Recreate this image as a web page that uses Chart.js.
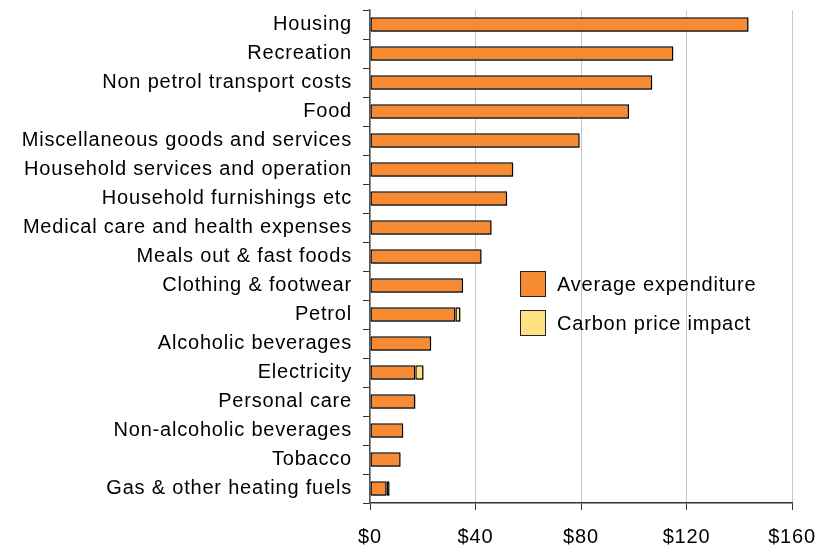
<!DOCTYPE html>
<html>
<head>
<meta charset="utf-8">
<script src="https://cdn.jsdelivr.net/npm/chart.js@4.4.1/dist/chart.umd.min.js"></script>
<style>
  html, body { margin: 0; padding: 0; background: #fff; }
  #wrap { width: 819px; height: 548px; position: relative; }
</style>
</head>
<body>
<div id="wrap"><canvas id="chart"></canvas></div>
<script>
// categories, top to bottom
const categories = [
  'Housing', 'Recreation', 'Non petrol transport costs', 'Food',
  'Miscellaneous goods and services', 'Household services and operation',
  'Household furnishings etc', 'Medical care and health expenses',
  'Meals out & fast foods', 'Clothing & footwear', 'Petrol',
  'Alcoholic beverages', 'Electricity', 'Personal care',
  'Non-alcoholic beverages', 'Tobacco', 'Gas & other heating fuels'
];
// weekly $ per household
const averageExpenditure = [143.5, 115, 107, 98.2, 79.5, 54.3, 52, 46.1, 42.3, 35.3, 32.4, 23.2, 17.2, 17.2, 12.6, 11.6, 6.3];
const carbonPriceImpact  = [0, 0, 0, 0, 0, 0, 0, 0, 0, 0, 1.9, 0, 3.1, 0, 0, 0, 1.1];
const xTicks = [0, 40, 80, 120, 160];

const FONT = '"Liberation Sans", Arial, Helvetica, sans-serif';
const FONT_SIZE = 20;
const SPACING = '0.8px';

// slightly wider text like the original, set before anything is measured
const textSpacing = {
  id: 'textSpacing',
  beforeLayout(chart) { chart.ctx.letterSpacing = SPACING; },
  beforeDraw(chart) { chart.ctx.letterSpacing = SPACING; }
};

// grey shadow behind the bars
const barShadow = {
  id: 'barShadow',
  beforeDatasetsDraw(chart) {
    const c = chart.ctx;
    c.save();
    c.shadowColor = 'rgba(0,0,0,0.4)';
    c.shadowOffsetX = 1.5;
    c.shadowOffsetY = 1.5;
    c.shadowBlur = 0;
  },
  afterDatasetsDraw(chart) {
    chart.ctx.restore();
  }
};

// legend drawn inside the plot
const innerLegend = {
  id: 'innerLegend',
  afterDraw(chart) {
    const c = chart.ctx;
    const x = 520, y0 = 271, step = 39;
    c.save();
    c.letterSpacing = SPACING;
    chart.data.datasets.forEach((ds, i) => {
      const y = y0 + i * step;
      c.fillStyle = ds.backgroundColor;
      c.fillRect(x, y, 25, 25);
      c.strokeStyle = '#222';
      c.lineWidth = 1;
      c.strokeRect(x + 0.5, y + 0.5, 25, 25);
      c.fillStyle = '#000';
      c.font = FONT_SIZE + 'px ' + FONT;
      c.textBaseline = 'middle';
      c.fillText(ds.label, x + 37, y + 14);
    });
    c.restore();
  }
};

new Chart(document.getElementById('chart'), {
  type: 'bar',
  data: {
    labels: categories,
    datasets: [
      {
        label: 'Average expenditure',
        data: averageExpenditure,
        backgroundColor: '#F68B33',
        borderColor: '#000',
        borderWidth: 1.4,
        borderSkipped: false,
        barPercentage: 0.5,
        categoryPercentage: 1
      },
      {
        label: 'Carbon price impact',
        data: carbonPriceImpact,
        backgroundColor: '#FFE083',
        borderColor: '#000',
        borderWidth: 1.4,
        borderSkipped: false,
        barPercentage: 0.5,
        categoryPercentage: 1
      }
    ]
  },
  options: {
    indexAxis: 'y',
    responsive: true,
    maintainAspectRatio: false,
    animation: false,
    layout: { padding: { top: 10, right: 27, left: 0, bottom: 0 } },
    plugins: {
      legend: { display: false },
      tooltip: { enabled: false }
    },
    scales: {
      x: {
        stacked: true,
        min: 0,
        max: 160,
        afterBuildTicks: (s) => { s.ticks = xTicks.map(v => ({ value: v })); },
        afterFit: (s) => { s.height = 45; s.paddingLeft = 0; s.paddingRight = 0; },
        grid: { color: '#c8c8c8', tickColor: '#333', tickLength: 7, lineWidth: 1 },
        border: { display: true, color: '#333', width: 1.5 },
        ticks: {
          color: '#000',
          padding: 15,
          font: { family: FONT, size: FONT_SIZE },
          maxRotation: 0,
          callback: (v) => '$' + v
        }
      },
      y: {
        stacked: true,
        afterFit: (s) => { s.width = 370; s.paddingTop = 0; s.paddingBottom = 0; },
        grid: { drawOnChartArea: false, tickColor: '#333', tickLength: 7, offset: true },
        border: { display: true, color: '#555', width: 1.5 },
        ticks: {
          color: '#000',
          padding: 11,
          autoSkip: false,
          font: { family: FONT, size: FONT_SIZE }
        }
      }
    }
  },
  plugins: [textSpacing, barShadow, innerLegend]
});
</script>
</body>
</html>
